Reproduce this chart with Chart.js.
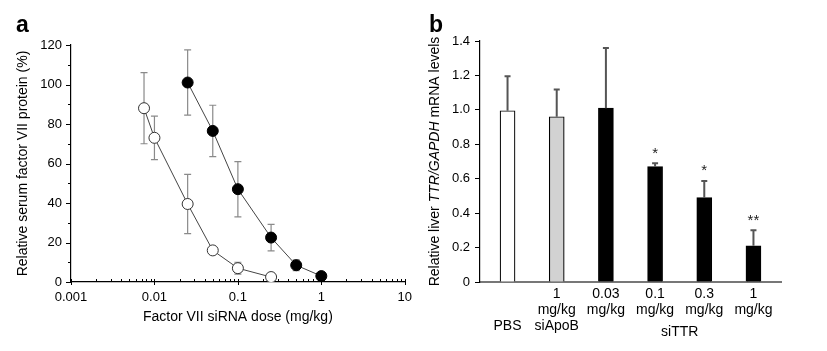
<!DOCTYPE html>
<html>
<head>
<meta charset="utf-8">
<script src="https://cdn.jsdelivr.net/npm/chart.js@4.4.1/dist/chart.umd.min.js"></script>
<style>
  body { margin: 0; background: #fff; }
  #wrap { position: relative; width: 827px; height: 351px; background: #fff; }
  canvas { position: absolute; top: 0; }
  #chartA { left: 0; }
  #chartB { left: 420px; }
</style>
</head>
<body>
<div id="wrap">
  <canvas id="chartA" width="420" height="351"></canvas>
  <canvas id="chartB" width="407" height="351"></canvas>
</div>
<script>
const FONT = "'Liberation Sans', Arial, Helvetica, sans-serif";

// Panel a: factor VII dose response
const openDose = [0.0075, 0.01, 0.025, 0.05, 0.1, 0.25];
const openProtein = [88, 73, 39.5, 16, 7, 2.5];
const openErr = [18, 11, 15, 1.5, 3, 0];

const filledDose = [0.025, 0.05, 0.1, 0.25, 0.5, 1];
const filledProtein = [101, 76.5, 47, 22.5, 8.5, 3];
const filledErr = [16.5, 13, 14, 6.7, 2.7, 0];

const doseTickLabels = ['0.001', '0.01', '0.1', '1', '10'];

// Panel b: TTR mRNA
const groupLabels = [
  ['', '', 'PBS'],
  ['1', 'mg/kg', 'siApoB'],
  ['0.03', 'mg/kg'],
  ['0.1', 'mg/kg'],
  ['0.3', 'mg/kg'],
  ['1', 'mg/kg']
];
const mrna = [0.995, 0.96, 1.01, 0.67, 0.49, 0.21];
const mrnaErr = [0.2, 0.158, 0.35, 0.02, 0.097, 0.09];
const signif = ['', '', '', '*', '*', '**'];
const barFill = ['#ffffff', '#d2d2d2', '#000000', '#000000', '#000000', '#000000'];

function drawRotated(ctx, x, y, parts) {
  // parts: [{text, italic}]
  ctx.save();
  ctx.translate(x, y);
  ctx.rotate(-Math.PI / 2);
  ctx.textBaseline = 'middle';
  ctx.textAlign = 'left';
  let total = 0;
  parts.forEach(p => {
    ctx.font = (p.italic ? 'italic ' : '') + '14px ' + FONT;
    p.w = ctx.measureText(p.text).width;
    total += p.w;
  });
  let cx = -total / 2;
  parts.forEach(p => {
    ctx.font = (p.italic ? 'italic ' : '') + '14px ' + FONT;
    ctx.fillText(p.text, cx, 0);
    cx += p.w;
  });
  ctx.restore();
}

const errorBarsA = {
  id: 'errorBarsA',
  beforeDatasetsDraw(chart) {
    const { ctx, scales: { x, y } } = chart;
    ctx.save();
    ctx.strokeStyle = '#8a8a8a';
    ctx.lineWidth = 1.2;
    chart.data.datasets.forEach(ds => {
      ds.data.forEach((p, i) => {
        const e = ds.err[i];
        if (!e) return;
        const px = x.getPixelForValue(p.x);
        const top = y.getPixelForValue(p.y + e);
        const bot = y.getPixelForValue(p.y - e);
        ctx.beginPath();
        ctx.moveTo(px, top); ctx.lineTo(px, bot);
        ctx.moveTo(px - 3.5, top); ctx.lineTo(px + 3.5, top);
        ctx.moveTo(px - 3.5, bot); ctx.lineTo(px + 3.5, bot);
        ctx.stroke();
      });
    });
    ctx.restore();
  }
};

const decorA = {
  id: 'decorA',
  afterDraw(chart) {
    const { ctx, chartArea, scales: { x, y } } = chart;
    ctx.save();
    ctx.strokeStyle = '#000';
    ctx.lineWidth = 1;
    x.ticks.forEach(t => {
      const px = Math.round(x.getPixelForValue(t.value)) + 0.5;
      const major = t.label !== '';
      ctx.beginPath();
      ctx.moveTo(px, chartArea.bottom + (major ? 3 : 0));
      ctx.lineTo(px, chartArea.bottom - 3);
      ctx.stroke();
    });
    y.ticks.forEach(t => {
      const py = Math.round(y.getPixelForValue(t.value)) + 0.5;
      const major = t.label !== '';
      ctx.beginPath();
      ctx.moveTo(chartArea.left - (major ? 5 : 3), py);
      ctx.lineTo(chartArea.left, py);
      ctx.stroke();
    });

    ctx.fillStyle = '#000';
    ctx.font = '14px ' + FONT;
    ctx.textAlign = 'center';
    ctx.textBaseline = 'middle';
    ctx.fillText('Factor VII siRNA dose (mg/kg)', (chartArea.left + chartArea.right) / 2, 317);
    drawRotated(ctx, 23, (chartArea.top + chartArea.bottom) / 2, [{ text: 'Relative serum factor VII protein (%)' }]);

    ctx.font = 'bold 23px ' + FONT;
    ctx.textAlign = 'left';
    ctx.textBaseline = 'alphabetic';
    ctx.fillText('a', 16, 32);
    ctx.restore();
  }
};

const logTicks = [];
for (let k = -3; k <= 0; k++) {
  for (let m = 1; m <= 9; m++) logTicks.push(m * Math.pow(10, k));
}
logTicks.push(10);

new Chart(document.getElementById('chartA'), {
  type: 'scatter',
  data: {
    datasets: [
      {
        data: openDose.map((d, i) => ({ x: d, y: openProtein[i] })),
        err: openErr,
        showLine: true,
        borderColor: '#444',
        borderWidth: 1,
        pointRadius: 5.5,
        pointBackgroundColor: '#fff',
        pointBorderColor: '#333',
        pointBorderWidth: 1
      },
      {
        data: filledDose.map((d, i) => ({ x: d, y: filledProtein[i] })),
        err: filledErr,
        showLine: true,
        borderColor: '#444',
        borderWidth: 1,
        pointRadius: 5.5,
        pointBackgroundColor: '#000',
        pointBorderColor: '#000',
        pointBorderWidth: 1
      }
    ]
  },
  options: {
    responsive: false,
    animation: false,
    layout: { padding: { left: 0, top: 45, right: 10, bottom: 0 } },
    plugins: { legend: { display: false }, tooltip: { enabled: false } },
    scales: {
      x: {
        type: 'logarithmic',
        min: 0.001,
        max: 10,
        grid: { display: false, drawTicks: false },
        border: { color: '#000', width: 1.2 },
        afterBuildTicks: s => { s.ticks = logTicks.map(v => ({ value: v })); },
        ticks: {
          autoSkip: false,
          maxRotation: 0,
          padding: 8,
          color: '#000',
          font: { family: FONT, size: 13 },
          callback: v => {
            const k = Math.log10(v);
            return Math.abs(k - Math.round(k)) < 1e-9 ? doseTickLabels[Math.round(k) + 3] : '';
          }
        },
        afterFit: s => { s.height = 69; }
      },
      y: {
        min: 0,
        max: 120,
        grid: { display: false, drawTicks: false },
        border: { color: '#000', width: 1.2 },
        ticks: {
          stepSize: 10,
          padding: 9,
          color: '#000',
          font: { family: FONT, size: 13 },
          callback: v => (v % 20 === 0 ? String(v) : '')
        },
        afterFit: s => { s.width = 71; }
      }
    }
  },
  plugins: [errorBarsA, decorA]
});

const decorB = {
  id: 'decorB',
  afterDatasetsDraw(chart) {
    const { ctx, chartArea, scales: { x, y } } = chart;
    const ds = chart.data.datasets[0];
    ctx.save();
    ctx.strokeStyle = '#555';
    ctx.lineWidth = 2;
    ds.data.forEach((p, i) => {
      const px = x.getPixelForValue(p.x);
      const top = y.getPixelForValue(p.y + ds.err[i]);
      const base = y.getPixelForValue(p.y);
      ctx.beginPath();
      ctx.moveTo(px, base); ctx.lineTo(px, top);
      ctx.moveTo(px - 3, top); ctx.lineTo(px + 3, top);
      ctx.stroke();
      if (ds.stars[i]) {
        ctx.fillStyle = '#222';
        ctx.font = '15px ' + FONT;
        ctx.textAlign = 'center';
        ctx.textBaseline = 'alphabetic';
        ctx.fillText(ds.stars[i], px, top - 14 + 8.5);
      }
    });

    ctx.fillStyle = '#000';
    ctx.font = '14px ' + FONT;
    ctx.textAlign = 'center';
    ctx.textBaseline = 'middle';
    const siX = (x.getPixelForValue(2) + x.getPixelForValue(5)) / 2;
    ctx.fillText('siTTR', siX, 332);
    drawRotated(ctx, 15, (chartArea.top + chartArea.bottom) / 2, [
      { text: 'Relative liver ' },
      { text: 'TTR/GAPDH', italic: true },
      { text: ' mRNA levels' }
    ]);

    ctx.font = 'bold 23px ' + FONT;
    ctx.textAlign = 'left';
    ctx.textBaseline = 'alphabetic';
    ctx.fillText('b', 9, 32);
    ctx.restore();
  }
};

new Chart(document.getElementById('chartB'), {
  type: 'bar',
  data: {
    datasets: [{
      data: mrna.map((v, i) => ({ x: i, y: v })),
      err: mrnaErr,
      stars: signif,
      backgroundColor: barFill,
      borderColor: '#000',
      borderWidth: 1.2,
      barThickness: 15
    }]
  },
  options: {
    responsive: false,
    animation: false,
    layout: { padding: { left: 0, top: 41, right: 46, bottom: 0 } },
    plugins: { legend: { display: false }, tooltip: { enabled: false } },
    scales: {
      x: {
        type: 'linear',
        offset: false,
        min: -0.56,
        max: 5.56,
        grid: { display: false, drawTicks: false, offset: false },
        border: { color: '#777', width: 2 },
        afterBuildTicks: s => { s.ticks = groupLabels.map((_, i) => ({ value: i })); },
        ticks: {
          autoSkip: false,
          maxRotation: 0,
          padding: 4,
          color: '#000',
          font: { family: FONT, size: 14, lineHeight: 1.15 },
          callback: v => groupLabels[v]
        },
        afterFit: s => { s.height = 69; }
      },
      y: {
        min: 0,
        max: 1.4,
        grid: { display: true, drawOnChartArea: false, drawTicks: true, tickLength: 5, tickColor: '#000' },
        border: { color: '#000', width: 1.2 },
        ticks: {
          stepSize: 0.2,
          padding: 5,
          color: '#000',
          font: { family: FONT, size: 13 },
          callback: v => (v === 0 ? '0' : v.toFixed(1))
        },
        afterFit: s => { s.width = 60; }
      }
    }
  },
  plugins: [decorB]
});
</script>
</body>
</html>
